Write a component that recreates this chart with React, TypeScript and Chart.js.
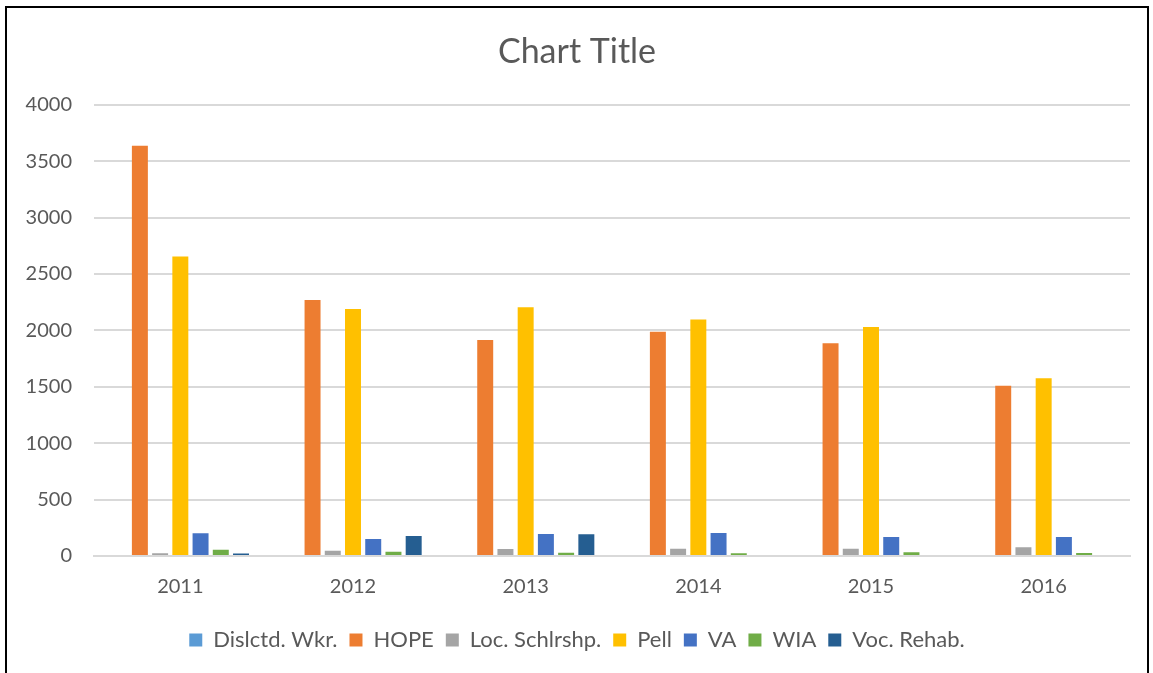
import React, { useEffect, useRef } from "react";
import { Chart, registerables } from "chart.js";

Chart.register(...registerables);

const years = ["2011", "2012", "2013", "2014", "2015", "2016"];
const dislctdWkr = [0, 0, 0, 0, 0, 0];
const hope = [3638, 2270, 1916, 1987, 1885, 1510];
const locSchlrshp = [25, 47, 62, 65, 65, 77];
const pell = [2655, 2190, 2206, 2096, 2030, 1575];
const va = [201, 151, 195, 204, 168, 168];
const wia = [56, 38, 29, 24, 33, 27];
const vocRehab = [22, 177, 192, 0, 0, 0];

const seriesNames = ["Dislctd. Wkr.", "HOPE", "Loc. Schlrshp.", "Pell", "VA", "WIA", "Voc. Rehab."];
const seriesValues = [dislctdWkr, hope, locSchlrshp, pell, va, wia, vocRehab];
const seriesColors = ["#5B9BD5", "#ED7D31", "#A5A5A5", "#FFC000", "#4472C4", "#70AD47", "#255E91"];

const FONT = "Lato, 'Open Sans', sans-serif";

export default function App() {
  const ref = useRef<HTMLCanvasElement | null>(null);
  useEffect(() => {
    if (!ref.current) return;
    const chart = new Chart(ref.current, {
      type: "bar",
      data: {
        labels: years,
        datasets: seriesNames.map((name, i) => ({
          label: name,
          data: seriesValues[i],
          backgroundColor: seriesColors[i],
          borderWidth: 0,
          categoryPercentage: 0.82,
          barPercentage: 0.79,
        })),
      },
      options: {
        responsive: false,
        animation: false,
        layout: { padding: { left: 24, right: 23, top: 0, bottom: 12 } },
        plugins: {
          title: {
            display: true,
            text: "Chart Title",
            color: "#595959",
            font: { family: FONT, size: 34, weight: "normal" },
            padding: { top: 32, bottom: 32 },
          },
          legend: {
            position: "bottom",
            labels: {
              color: "#595959",
              font: { family: FONT, size: 22 },
              boxWidth: 13,
              boxHeight: 13,
              padding: 12,
            },
          },
          tooltip: { enabled: false },
        },
        scales: {
          x: {
            grid: { display: false, drawTicks: false },
            border: { display: true, color: "#d9d9d9", width: 2 },
            ticks: { color: "#595959", font: { family: FONT, size: 20, lineHeight: 1.15 }, padding: 19 },
          },
          y: {
            min: 0,
            max: 4000,
            grid: { color: "#d9d9d9", lineWidth: 2, drawTicks: false },
            border: { display: false },
            afterFit: (scale: any) => {
              scale.width = 70;
            },
            ticks: {
              stepSize: 500,
              color: "#595959",
              font: { family: FONT, size: 20 },
              padding: 22,
              callback: (v: any) => String(v),
            },
          },
        },
      },
    });
    return () => chart.destroy();
  }, []);
  return (
    <div style={{ position: "fixed", left: 0, top: 0, width: 1153, height: 673, background: "#fff", overflow: "hidden" }}>
      <canvas ref={ref} width={1153} height={673} style={{ position: "absolute", left: 0, top: 0 }} />
      <div
        style={{
          position: "absolute",
          left: 5,
          top: 6,
          width: 1140,
          height: 720,
          border: "2px solid #000",
          pointerEvents: "none",
        }}
      />
    </div>
  );
}
